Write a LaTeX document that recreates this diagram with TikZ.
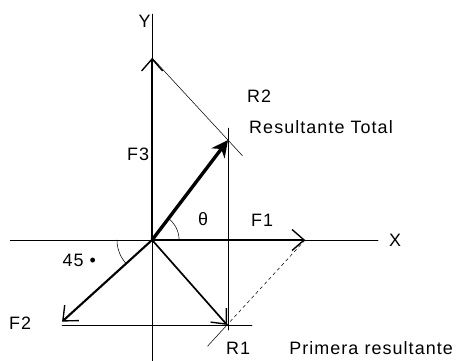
\documentclass[tikz,border=0pt]{standalone}
\usepackage{fontspec}
\setmainfont{Liberation Sans}[LetterSpace=6]
\usetikzlibrary{arrows.meta,calc}
\tikzset{
  axis/.style={line width=0.55pt},
  guide/.style={line width=0.5pt},
  vector/.style={line width=2pt,-{Straight Barb[length=4mm,width=7mm,line width=1.3pt]}},
  resultant/.style={line width=3.2pt,-{Stealth[length=5.5mm,width=5.5mm]}},
  label/.style={inner sep=0pt,font=\fontsize{17}{20}\selectfont}
}
\begin{document}
\begin{tikzpicture}[
  line cap=round,
  line join=round
]
  \useasboundingbox (-5.07,-4.03) rectangle (10.53,8.0);

  % Origen y puntas de los vectores
  \coordinate (O) at (0,0);
  \coordinate (F1) at (5.1,0);
  \coordinate (F2) at (-3.0,-2.72);
  \coordinate (F3) at (0,6.07);
  \coordinate (R1) at (2.5,-2.83);
  \coordinate (R2) at (2.53,3.33);

  % Ejes
  \coordinate (Xa) at (-4.73,0);
  \coordinate (Xb) at (7.53,0);
  \coordinate (Ya) at (0,-4.03);
  \coordinate (Yb) at (0,7.53);
  \draw[axis] (Xa) -- (Xb);
  \draw[axis] (Ya) -- (Yb);
  \node[label] (X) at (8.1,0) {X};
  \node[label] (Y) at (-0.25,7.3) {Y};

  % Lineas de construccion
  \draw[guide] (F3) -- ($(F3)!1.19!(R2)$);
  \draw[guide] (2.53,3.73) -- (2.53,-3.0);
  \draw[guide] (F2 |- R1) -- (3.33,-2.83);
  \draw[guide,dashed] (F1) -- (R1);
  \draw[guide] (R1) -- ($(F1)!1.25!(R1)$);

  % Angulos
  \draw[guide] (0.9,0) arc[start angle=0,end angle=52,radius=0.9];
  \draw[guide] (-1.17,0) arc[start angle=180,end angle=222,radius=1.17];

  % Fuerzas
  \draw[vector] (O) -- (F3);
  \draw[vector] (O) -- (F1);
  \draw[vector] (O) -- (F2);
  \draw[vector,line width=1.6pt] (O) -- (R1);
  \draw[resultant] (O) -- (R2);

  % Rotulos
  \node[label] (lF3) at (-0.47,2.87) {F3};
  \node[label] (lF1) at (3.67,0.67) {F1};
  \node[label] (lF2) at (-4.4,-2.77) {F2};
  \node[label] (lth) at (1.7,0.7) {θ};
  \node[label] (l45) at (-2.43,-0.67) {45 •};
  \node[label] (lR1) at (2.87,-3.6) {R1};
  \node[label] (lP) at (7.3,-3.6) {Primera resultante};
  \node[label] (lR2) at (3.57,4.8) {R2};
  \node[label] (lRT) at (5.63,3.77) {Resultante Total};
\end{tikzpicture}
\end{document}
